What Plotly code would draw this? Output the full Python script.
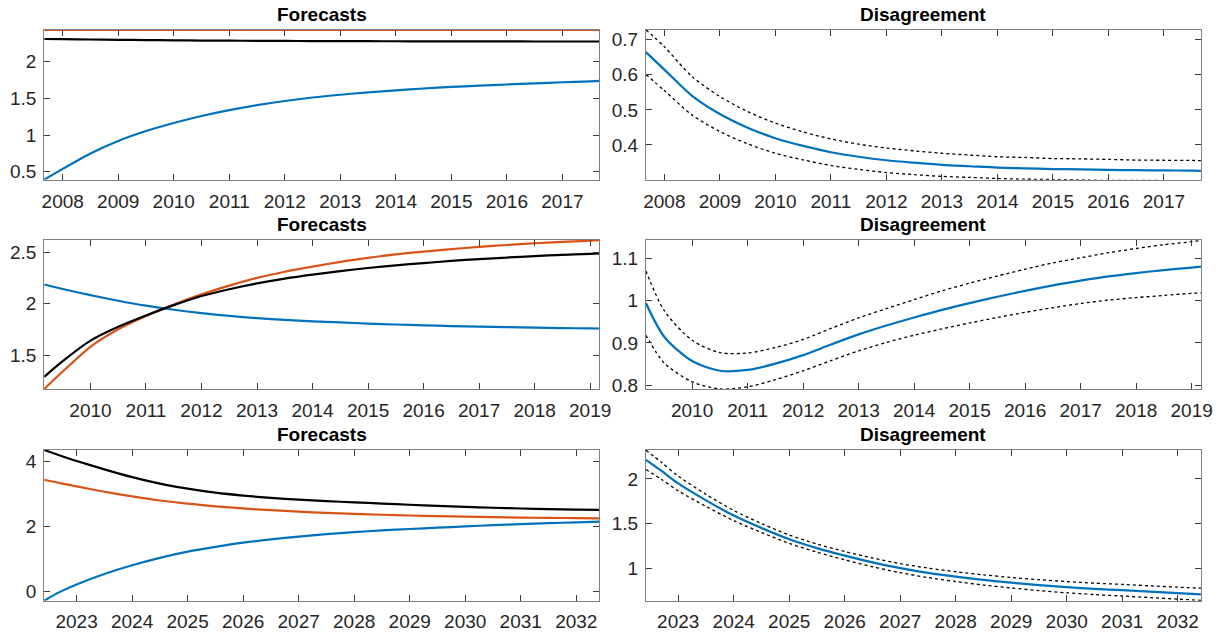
import plotly.graph_objects as go

# ---- time grids (decimal years) ----
years_a = [2007.667, 2008.0, 2008.5, 2009.0, 2009.5, 2010.0, 2010.5, 2011.0, 2011.5,
           2012.0, 2012.5, 2013.0, 2013.5, 2014.0, 2014.5, 2015.0, 2015.5, 2016.0,
           2016.5, 2017.0, 2017.5, 2017.667]
years_b = [2009.167, 2009.5, 2010.0, 2010.5, 2011.0, 2011.5, 2012.0, 2012.5, 2013.0,
           2013.5, 2014.0, 2014.5, 2015.0, 2015.5, 2016.0, 2016.5, 2017.0, 2017.5,
           2018.0, 2018.5, 2019.0, 2019.167]
years_c = [2022.417, 2022.7, 2023.0, 2023.5, 2024.0, 2024.5, 2025.0, 2025.5, 2026.0,
           2026.5, 2027.0, 2027.5, 2028.0, 2028.5, 2029.0, 2029.5, 2030.0, 2030.5,
           2031.0, 2031.5, 2032.0, 2032.417]

# ---- episode A: forecasts ----
fc_a_blue = [0.392, 0.54, 0.75, 0.92, 1.055, 1.165, 1.26, 1.34, 1.408, 1.465, 1.512,
             1.55, 1.583, 1.61, 1.635, 1.656, 1.674, 1.69, 1.704, 1.72, 1.733, 1.738]
fc_a_orange = [2.435] * 22
fc_a_black = [2.310, 2.307, 2.303, 2.299, 2.295, 2.292, 2.289, 2.287, 2.285, 2.283,
              2.282, 2.281, 2.280, 2.279, 2.278, 2.278, 2.277, 2.277, 2.276, 2.276,
              2.276, 2.276]
# ---- episode A: disagreement ----
dis_a_mid = [0.665, 0.615, 0.540, 0.488, 0.449, 0.419, 0.397, 0.379, 0.366, 0.356,
             0.349, 0.343, 0.339, 0.335, 0.333, 0.331, 0.330, 0.3285, 0.3276, 0.327,
             0.3265, 0.326]
dis_a_hi = [0.729, 0.680, 0.595, 0.538, 0.495, 0.462, 0.437, 0.417, 0.402, 0.391,
            0.383, 0.376, 0.371, 0.366, 0.364, 0.361, 0.360, 0.3585, 0.3566, 0.356,
            0.3555, 0.355]
dis_a_lo = [0.601, 0.555, 0.485, 0.438, 0.403, 0.376, 0.357, 0.341, 0.330, 0.321,
            0.315, 0.310, 0.307, 0.304, 0.302, 0.301, 0.300, 0.2985, 0.2986, 0.298,
            0.2975, 0.297]

# ---- episode B: forecasts ----
fc_b_blue = [2.186, 2.142, 2.082, 2.028, 1.980, 1.940, 1.907, 1.880, 1.858, 1.841,
             1.828, 1.817, 1.806, 1.797, 1.789, 1.782, 1.776, 1.771, 1.766, 1.762,
             1.759, 1.758]
fc_b_orange = [1.17, 1.34, 1.58, 1.75, 1.88, 1.99, 2.09, 2.175, 2.25, 2.31, 2.36, 2.405,
               2.445, 2.478, 2.506, 2.53, 2.551, 2.57, 2.587, 2.60, 2.612, 2.616]
fc_b_black = [1.288, 1.44, 1.64, 1.775, 1.885, 1.985, 2.074, 2.14, 2.196, 2.243, 2.282,
              2.316, 2.346, 2.372, 2.394, 2.415, 2.433, 2.448, 2.462, 2.474, 2.484, 2.488]
# ---- episode B: disagreement ----
dis_b_mid = [0.994, 0.914, 0.857, 0.834, 0.836, 0.851, 0.871, 0.896, 0.920, 0.941,
             0.960, 0.978, 0.994, 1.009, 1.023, 1.036, 1.047, 1.057, 1.065, 1.072,
             1.078, 1.080]
dis_b_hi = [1.070, 0.976, 0.906, 0.877, 0.876, 0.889, 0.908, 0.934, 0.959, 0.981,
            1.002, 1.023, 1.041, 1.058, 1.074, 1.089, 1.101, 1.113, 1.123, 1.132,
            1.139, 1.142]
dis_b_lo = [0.918, 0.852, 0.808, 0.791, 0.796, 0.813, 0.834, 0.858, 0.881, 0.901,
            0.918, 0.933, 0.947, 0.960, 0.972, 0.983, 0.993, 1.001, 1.007, 1.012,
            1.017, 1.018]

# ---- episode C: forecasts ----
fc_c_blue = [-0.29, -0.02, 0.21, 0.53, 0.80, 1.03, 1.22, 1.37, 1.50, 1.60, 1.685, 1.76,
             1.825, 1.875, 1.92, 1.96, 2.0, 2.04, 2.07, 2.10, 2.125, 2.145]
fc_c_orange = [3.44, 3.335, 3.235, 3.07, 2.925, 2.80, 2.70, 2.62, 2.555, 2.50, 2.455,
               2.417, 2.386, 2.359, 2.336, 2.316, 2.299, 2.285, 2.273, 2.263, 2.255, 2.249]
fc_c_black = [4.357, 4.19, 4.02, 3.76, 3.52, 3.32, 3.165, 3.04, 2.95, 2.88, 2.825, 2.78,
              2.742, 2.705, 2.668, 2.634, 2.603, 2.576, 2.553, 2.534, 2.518, 2.508]
# ---- episode C: disagreement ----
dis_c_mid = [2.215, 2.09, 1.95, 1.76, 1.59, 1.45, 1.325, 1.225, 1.14, 1.065, 1.0, 0.948,
             0.905, 0.868, 0.837, 0.81, 0.787, 0.768, 0.753, 0.736, 0.72, 0.707]
dis_c_hi = [2.323, 2.185, 2.033, 1.828, 1.647, 1.50, 1.372, 1.271, 1.187, 1.114, 1.051,
            1.001, 0.96, 0.925, 0.896, 0.871, 0.85, 0.832, 0.818, 0.802, 0.787, 0.775]
dis_c_lo = [2.107, 1.995, 1.867, 1.692, 1.533, 1.40, 1.278, 1.179, 1.093, 1.016, 0.949,
            0.895, 0.85, 0.811, 0.778, 0.749, 0.724, 0.704, 0.688, 0.67, 0.653, 0.639]

panel_titles = ["Forecasts", "Disagreement"]

BLUE = "#0072BD"
ORANGE = "#D95319"
BLACK = "#000000"
FONT = "Liberation Sans, Arial, Helvetica, sans-serif"

W, H = 1231, 638
col_px = [(42.7, 604.3), (651.3, 1212.7)]
row_px = [(30.0, 181.7), (242.7, 393.3), (455.0, 607.3)]

panels = [
    # (row, col, x grid, y range, dtick, series list)
    (0, 0, years_a, [0.392, 2.437], 0.5,
     [(fc_a_blue, BLUE, "solid"), (fc_a_orange, ORANGE, "solid"), (fc_a_black, BLACK, "solid")]),
    (0, 1, years_a, [0.3005, 0.729], 0.1,
     [(dis_a_hi, BLACK, "dash"), (dis_a_lo, BLACK, "dash"), (dis_a_mid, BLUE, "solid")]),
    (1, 0, years_b, [1.17, 2.618], 0.5,
     [(fc_b_blue, BLUE, "solid"), (fc_b_orange, ORANGE, "solid"), (fc_b_black, BLACK, "solid")]),
    (1, 1, years_b, [0.791, 1.143], 0.1,
     [(dis_b_hi, BLACK, "dash"), (dis_b_lo, BLACK, "dash"), (dis_b_mid, BLUE, "solid")]),
    (2, 0, years_c, [-0.29, 4.357], 2,
     [(fc_c_blue, BLUE, "solid"), (fc_c_orange, ORANGE, "solid"), (fc_c_black, BLACK, "solid")]),
    (2, 1, years_c, [0.636, 2.325], 0.5,
     [(dis_c_hi, BLACK, "dash"), (dis_c_lo, BLACK, "dash"), (dis_c_mid, BLUE, "solid")]),
]

fig = go.Figure()
layout = {}
annotations = []

for i, (r, c, xs, yr, dt, series) in enumerate(panels, start=1):
    xa = "x" if i == 1 else f"x{i}"
    ya = "y" if i == 1 else f"y{i}"
    x0, x1 = col_px[c]
    top, bot = row_px[r]
    for vals, color, style in series:
        if style == "dash":
            line = dict(color=color, width=1.3, dash="3px,3px", shape="spline", smoothing=0.8)
        else:
            line = dict(color=color, width=2.2, shape="spline", smoothing=0.8)
        fig.add_trace(go.Scatter(x=xs, y=vals, mode="lines", line=line,
                                 xaxis=xa, yaxis=ya, showlegend=False,
                                 hoverinfo="skip"))
    axis_common = dict(
        showline=True, linecolor="#808080", linewidth=1, mirror="ticks",
        ticks="inside", ticklen=6, tickwidth=1, tickcolor="#3a3a3a",
        showgrid=False, zeroline=False,
        tickfont=dict(family=FONT, size=19, color="#262626"),
    )
    layout["xaxis" if i == 1 else f"xaxis{i}"] = dict(
        axis_common, domain=[x0 / W, x1 / W], range=[xs[0], xs[-1]],
        dtick=1, tick0=2000, tickformat="d", anchor=ya, ticklabelstandoff=4,
    )
    layout["yaxis" if i == 1 else f"yaxis{i}"] = dict(
        axis_common, domain=[1 - bot / H, 1 - top / H], range=yr,
        dtick=dt, tick0=0, anchor=xa, ticklabelstandoff=3,
    )
    annotations.append(dict(
        text=f"<b>{panel_titles[c]}</b>", x=(x0 + x1) / 2 / W, y=1 - top / H,
        xref="paper", yref="paper", xanchor="center", yanchor="bottom",
        yshift=3, showarrow=False,
        font=dict(family=FONT, size=19, color="#000000"),
    ))

fig.update_layout(
    width=W, height=H, margin=dict(l=0, r=0, t=0, b=0),
    paper_bgcolor="white", plot_bgcolor="white",
    annotations=annotations, showlegend=False, hovermode=False,
    **layout,
)

fig.write_html("out.html", config={"displayModeBar": False})
